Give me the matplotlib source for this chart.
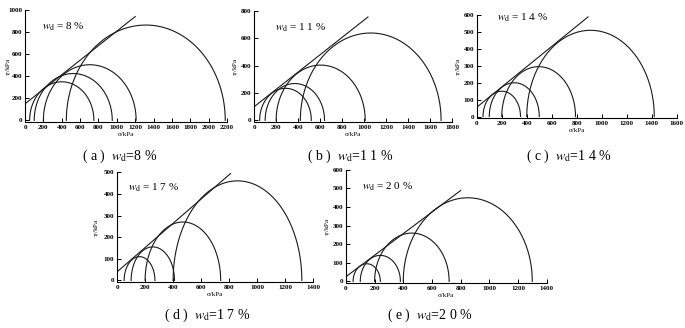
import numpy as np
import matplotlib
matplotlib.use('Agg')
import matplotlib.pyplot as plt

plt.rcParams['font.family'] = ['Liberation Serif', 'DejaVu Serif']
plt.rcParams['mathtext.fontset'] = 'stix'

# datos: (sigma3, sigma1) de cada círculo de Mohr, en kPa
ETIQUETAS = ['a', 'b', 'c', 'd', 'e']
W_D = ['8', '11', '14', '17', '20']
SIG3_A = [50, 100, 200, 450]
SIG1_A = [750, 950, 1210, 2180]
SIG3_B = [50, 100, 200, 420]
SIG1_B = [520, 640, 1010, 1700]
SIG3_C = [50, 100, 200, 400]
SIG1_C = [350, 500, 790, 1420]
SIG3_D = [50, 100, 200, 400]
SIG1_D = [270, 410, 740, 1320]
SIG3_E = [50, 100, 200, 400]
SIG1_E = [240, 380, 720, 1300]
# envolvente: cohesión (kPa), pendiente tan(phi), sigma final de la recta
COHESION = [150, 100, 55, 40, 25]
PENDIENTE = [0.66, 0.635, 0.60, 0.56, 0.58]
SIG_FIN = [1200, 1035, 890, 810, 800]
XMAX = [2200, 1800, 1600, 1400, 1400]
YMAX = [1000, 800, 600, 500, 600]
YPASO = [200, 200, 100, 100, 100]

SIG3 = [SIG3_A, SIG3_B, SIG3_C, SIG3_D, SIG3_E]
SIG1 = [SIG1_A, SIG1_B, SIG1_C, SIG1_D, SIG1_E]

# posiciones (fracción de figura) de cada eje
POS = [[0.0365, 0.628, 0.295, 0.341],
       [0.371, 0.628, 0.289, 0.338],
       [0.696, 0.640, 0.292, 0.314],
       [0.171, 0.140, 0.286, 0.335],
       [0.505, 0.137, 0.293, 0.345]]
YLAB_X = [-0.077, -0.086, -0.085, -0.10, -0.085]
TXT = [(0.084, 0.85), (0.106, 0.85), (0.10, 0.97), (0.056, 0.86), (0.08, 0.85)]
CAP = [(120, 156), (350, 156), (569, 156), (207, 315), (430, 315)]

COL = '#1a1a1a'
fig = plt.figure(figsize=(6.85, 3.28), dpi=100)
th = np.linspace(0, np.pi, 200)
for i in range(5):
    ax = fig.add_axes(POS[i])
    for s3, s1 in zip(SIG3[i], SIG1[i]):
        c, r = (s1 + s3) / 2, (s1 - s3) / 2
        ax.plot(c + r * np.cos(th), r * np.sin(th), color=COL, lw=0.8)
    xs = np.array([0, SIG_FIN[i]])
    ax.plot(xs, COHESION[i] + PENDIENTE[i] * xs, color=COL, lw=0.8)
    ax.set_xlim(0, XMAX[i])
    ax.set_ylim(-0.015 * YMAX[i], YMAX[i])
    ax.set_xticks(np.arange(0, XMAX[i] + 1, 200))
    ax.set_yticks(np.arange(0, YMAX[i] + 1, YPASO[i]))
    ax.spines[['top', 'right']].set_visible(False)
    ax.spines['left'].set_bounds(0, YMAX[i])
    for sp in ax.spines.values():
        sp.set_linewidth(0.8)
    ax.tick_params(direction='in', length=3, width=0.7, labelsize=5, pad=2)
    for lab in ax.get_xticklabels() + ax.get_yticklabels():
        lab.set_fontweight('bold')
    ax.set_xlabel('σ/kPa', fontsize=5, labelpad=1.5)
    ax.set_ylabel(r'$\tau_f$/kPa', fontsize=5, va='center')
    ax.yaxis.set_label_coords(YLAB_X[i], 0.5)
    ax.text(*TXT[i], r'$w_{\rm d}$ = ' + ' '.join(W_D[i]) + ' %',
            transform=ax.transAxes, fontsize=8, va='center')
    fig.text(CAP[i][0] / 685, 1 - CAP[i][1] / 328,
             f'( {ETIQUETAS[i]} )  ' + r'$w_{\rm d}$' + '=' + ' '.join(W_D[i]) + ' %',
             ha='center', va='center', fontsize=10)

fig.savefig('out.png', dpi=100)
